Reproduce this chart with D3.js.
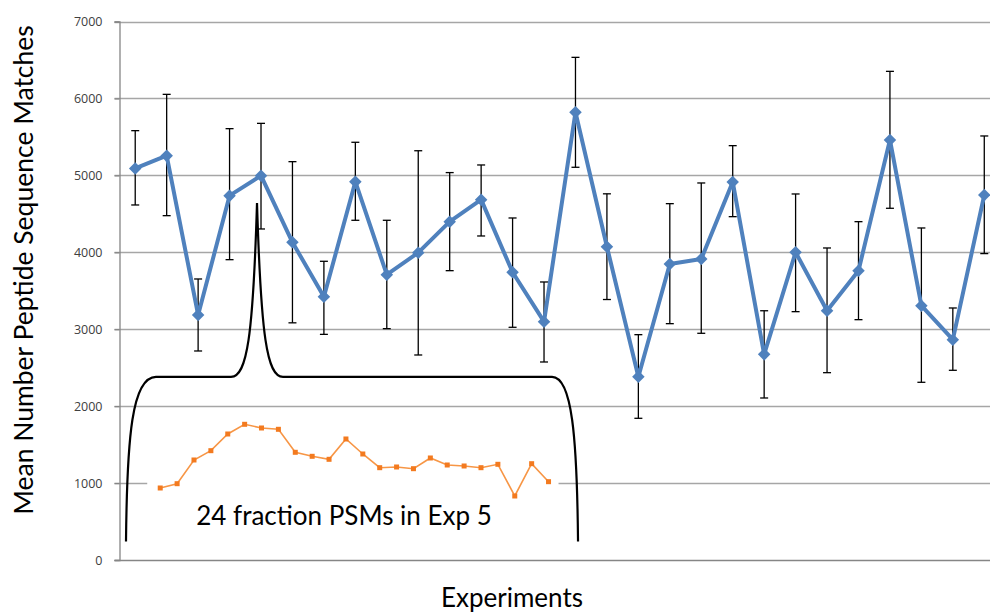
<!DOCTYPE html>
<html>
<head>
    <title>Mean PSMs per experiment</title>
    <script type="text/javascript" src="https://cdn.jsdelivr.net/npm/d3@7"></script>
    <meta charset="utf-8" />
    <style>
        body { margin: 0; background: #fff; }
        text { font-family: Lato, "Open Sans", sans-serif; }
    </style>
</head>
<body>
    <svg width="990" height="614"></svg>
    <script>

        // experiments 1..28
        var experiments = [1, 2, 3, 4, 5, 6, 7, 8, 9, 10, 11, 12, 13, 14,
                           15, 16, 17, 18, 19, 20, 21, 22, 23, 24, 25, 26, 27, 28];

        var meanPSMs = [5090, 5256, 3185, 4736, 4996, 4130, 3423, 4918, 3709, 3995, 4398, 4684, 3740, 3098,
                        5820, 4073, 2383, 3848, 3913, 4914, 2673, 4000, 3240, 3761, 5460, 3306, 2864, 4745];
        var upperPSMs = [5581, 6053, 3653, 5607, 5676, 5178, 3883, 5430, 4416, 5320, 5036, 5135, 4446, 3614,
                         6534, 4760, 2929, 4632, 4901, 5386, 3240, 4758, 4056, 4398, 6352, 4316, 3276, 5512];
        var lowerPSMs = [4615, 4476, 2717, 3904, 4303, 3083, 2933, 4416, 3007, 2665, 3761, 4212, 3025, 2574,
                         5105, 3386, 1842, 3072, 2947, 4463, 2106, 3228, 2435, 3124, 4572, 2310, 2466, 3983];

        // inset: the 24 fractions of experiment 5
        var fractions = [1, 2, 3, 4, 5, 6, 7, 8, 9, 10, 11, 12, 13, 14, 15, 16, 17, 18, 19, 20, 21, 22, 23, 24];
        var fractionPSMs = [936, 992, 1300, 1421, 1638, 1764, 1716, 1699, 1400, 1348, 1309, 1573,
                            1378, 1200, 1209, 1187, 1326, 1235, 1222, 1200, 1244, 832, 1252, 1018];

        var yTicks = [0, 1000, 2000, 3000, 4000, 5000, 6000, 7000];

        var svg = d3.select("svg"),
            width = +svg.attr("width"),
            height = +svg.attr("height");

        var plotLeft = 119.5, plotRight = 1000, plotTop = 21.5, plotBottom = 560;

        var x = d3.scaleBand().domain(experiments).range([plotLeft, plotRight]);
        var y = d3.scaleLinear().domain([0, 7000]).range([plotBottom, plotTop]);
        var xc = function (d) { return x(d) + x.bandwidth() / 2; };

        // gridlines
        svg.append("g")
            .selectAll("line")
            .data(yTicks.slice(1))
            .enter()
            .append("line")
            .attr("x1", plotLeft - 5).attr("x2", width)
            .attr("y1", function (d) { return Math.round(y(d)) + 0.5; })
            .attr("y2", function (d) { return Math.round(y(d)) + 0.5; })
            .attr("stroke", "#a6a6a6").attr("stroke-width", 1.3);

        var yAxis = svg.append("g")
            .attr("transform", "translate(" + plotLeft + ",0)")
            .call(d3.axisLeft(y).tickValues(yTicks).tickSize(5).tickPadding(12)
                .tickFormat(d3.format("d")));
        yAxis.select(".domain").attr("stroke", "#868686").attr("stroke-width", 1.3);
        yAxis.selectAll(".tick line").attr("stroke", "#868686").attr("stroke-width", 1.3);
        yAxis.selectAll(".tick text")
            .attr("fill", "#404040")
            .style("font-family", "'Open Sans', sans-serif")
            .style("font-size", "12.5px");

        // x axis line
        svg.append("line")
            .attr("x1", plotLeft - 5).attr("x2", width)
            .attr("y1", Math.round(y(0)) + 0.5).attr("y2", Math.round(y(0)) + 0.5)
            .attr("stroke", "#868686").attr("stroke-width", 1.3);

        // error bars
        var eb = svg.append("g").attr("stroke", "#000").attr("stroke-width", 1.3);
        experiments.forEach(function (e, i) {
            var cx = xc(e);
            eb.append("line").attr("x1", cx).attr("x2", cx)
                .attr("y1", y(upperPSMs[i])).attr("y2", y(lowerPSMs[i]));
            eb.append("line").attr("x1", cx - 4).attr("x2", cx + 4)
                .attr("y1", y(upperPSMs[i])).attr("y2", y(upperPSMs[i]));
            eb.append("line").attr("x1", cx - 4).attr("x2", cx + 4)
                .attr("y1", y(lowerPSMs[i])).attr("y2", y(lowerPSMs[i]));
        });

        // main series
        var line = d3.line()
            .x(function (d, i) { return xc(experiments[i]); })
            .y(function (d) { return y(d); });

        svg.append("path")
            .datum(meanPSMs)
            .attr("fill", "none")
            .attr("stroke", "#4f81bd")
            .attr("stroke-width", 4)
            .attr("stroke-linejoin", "round")
            .attr("d", line);

        svg.append("g")
            .selectAll("path")
            .data(meanPSMs)
            .enter()
            .append("path")
            .attr("d", d3.symbol().type(d3.symbolDiamond2).size(100))
            .attr("transform", function (d, i) {
                return "translate(" + xc(experiments[i]) + "," + y(d) + ")";
            })
            .attr("fill", "#4f81bd");

        // inset: white box covering grid, orange fraction series
        var fx = d3.scalePoint().domain(fractions).range([xc(1) + 25, xc(14) + 4.5]);
        svg.append("rect")
            .attr("x", fx(1) - 13).attr("y", y(1920))
            .attr("width", fx(24) - fx(1) + 23).attr("height", y(60) - y(1920))
            .attr("fill", "#fff");

        var fline = d3.line()
            .x(function (d, i) { return fx(fractions[i]); })
            .y(function (d) { return y(d); });

        svg.append("path")
            .datum(fractionPSMs)
            .attr("fill", "none")
            .attr("stroke", "#f79646")
            .attr("stroke-width", 1.6)
            .attr("d", fline);

        svg.append("g")
            .selectAll("rect")
            .data(fractionPSMs)
            .enter()
            .append("rect")
            .attr("x", function (d, i) { return fx(fractions[i]) - 2.5; })
            .attr("y", function (d) { return y(d) - 2.5; })
            .attr("width", 5).attr("height", 5)
            .attr("fill", "#f37a1f");

        // bracket from experiment 1 to 14, pointing at experiment 5
        var bx0 = x(1) + 6.5, bx1 = xc(14) + 34, bpx = xc(5) - 4;
        var by = y(2380), bBot = y(240), bPeak = y(4640);
        var bracket = "M" + bx0 + "," + bBot +
            " C" + (bx0 + 1) + "," + (by + 60) + " " + (bx0 + 6) + "," + by + " " + (bx0 + 30) + "," + by +
            " L" + (bpx - 26) + "," + by +
            " C" + (bpx - 10) + "," + by + " " + (bpx - 4) + "," + (by - 40) + " " + bpx + "," + bPeak +
            " C" + (bpx + 4) + "," + (by - 40) + " " + (bpx + 10) + "," + by + " " + (bpx + 26) + "," + by +
            " L" + (bx1 - 26) + "," + by +
            " C" + (bx1 - 6) + "," + by + " " + (bx1 - 1) + "," + (by + 60) + " " + bx1 + "," + bBot;
        svg.append("path")
            .attr("d", bracket)
            .attr("fill", "none")
            .attr("stroke", "#000")
            .attr("stroke-width", 2.2);

        svg.append("text")
            .attr("x", 344).attr("y", 525)
            .attr("text-anchor", "middle")
            .style("font-size", "26px")
            .attr("fill", "#000")
            .text("24 fraction PSMs in Exp 5");

        // axis titles
        svg.append("text")
            .attr("transform", "translate(33,270) rotate(-90)")
            .attr("text-anchor", "middle")
            .style("font-size", "26.5px")
            .attr("fill", "#000")
            .text("Mean Number Peptide Sequence Matches");

        svg.append("text")
            .attr("x", 512).attr("y", 607)
            .attr("text-anchor", "middle")
            .style("font-size", "26px")
            .attr("fill", "#000")
            .text("Experiments");

    </script>
</body>
</html>
